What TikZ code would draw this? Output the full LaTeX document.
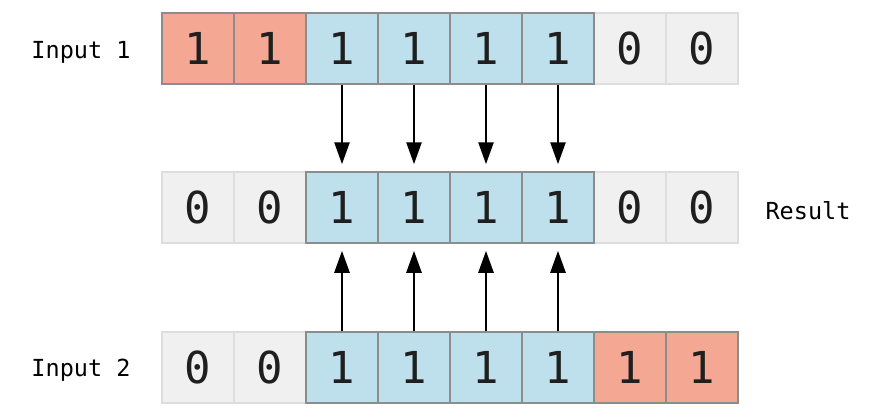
\documentclass[tikz,border=0pt]{standalone}
\usepackage{fontspec}
\setmonofont{DejaVu Sans Mono}
\usetikzlibrary{arrows.meta}
\definecolor{cred}{HTML}{F4A792}
\definecolor{cblue}{HTML}{BDE0EC}
\definecolor{cgray}{HTML}{F0F0F0}
\definecolor{lgborder}{HTML}{DDDDDD}
\definecolor{dkborder}{HTML}{8C8C8C}
\begin{document}
\begin{tikzpicture}[x=1pt,y=-1pt,
  cell/.style={minimum width=72pt,minimum height=71pt,inner sep=0pt,line width=1.5pt,
    font=\ttfamily\fontsize{44}{44}\selectfont,text=black!88},
  zcell/.style={cell,fill=cgray,draw=lgborder},
  bcell/.style={cell,fill=cblue,draw=dkborder},
  rcell/.style={cell,fill=cred,draw=dkborder},
  lbl/.style={font=\ttfamily\fontsize{23.5}{23.5}\selectfont,inner sep=0pt},
  arr/.style={line width=2.5pt,-{Triangle[length=22pt,width=15pt]},shorten >=7pt}]
\useasboundingbox (0,0) rectangle (894,416);
% row 1
\node[zcell] (a7) at (630,48.5) {0};
\node[zcell] (a8) at (702,48.5) {0};
\node[rcell] (a1) at (198,48.5) {1};
\node[rcell] (a2) at (270,48.5) {1};
\node[bcell] (a3) at (342,48.5) {1};
\node[bcell] (a4) at (414,48.5) {1};
\node[bcell] (a5) at (486,48.5) {1};
\node[bcell] (a6) at (558,48.5) {1};
% row 2
\node[zcell] (b1) at (198,207.5) {0};
\node[zcell] (b2) at (270,207.5) {0};
\node[zcell] (b7) at (630,207.5) {0};
\node[zcell] (b8) at (702,207.5) {0};
\node[bcell] (b3) at (342,207.5) {1};
\node[bcell] (b4) at (414,207.5) {1};
\node[bcell] (b5) at (486,207.5) {1};
\node[bcell] (b6) at (558,207.5) {1};
% row 3
\node[zcell] (c1) at (198,367.5) {0};
\node[zcell] (c2) at (270,367.5) {0};
\node[bcell] (c3) at (342,367.5) {1};
\node[bcell] (c4) at (414,367.5) {1};
\node[bcell] (c5) at (486,367.5) {1};
\node[bcell] (c6) at (558,367.5) {1};
\node[rcell] (c7) at (630,367.5) {1};
\node[rcell] (c8) at (702,367.5) {1};
% labels
\node[lbl] (l1) at (81,52) {Input 1};
\node[lbl] (l2) at (808,211) {Result};
\node[lbl] (l3) at (81,370) {Input 2};
% arrows
\foreach \i in {3,4,5,6}{
  \draw[arr] (a\i.south) -- (b\i.north);
  \draw[arr] (c\i.north) -- (b\i.south);
}
\end{tikzpicture}
\end{document}
